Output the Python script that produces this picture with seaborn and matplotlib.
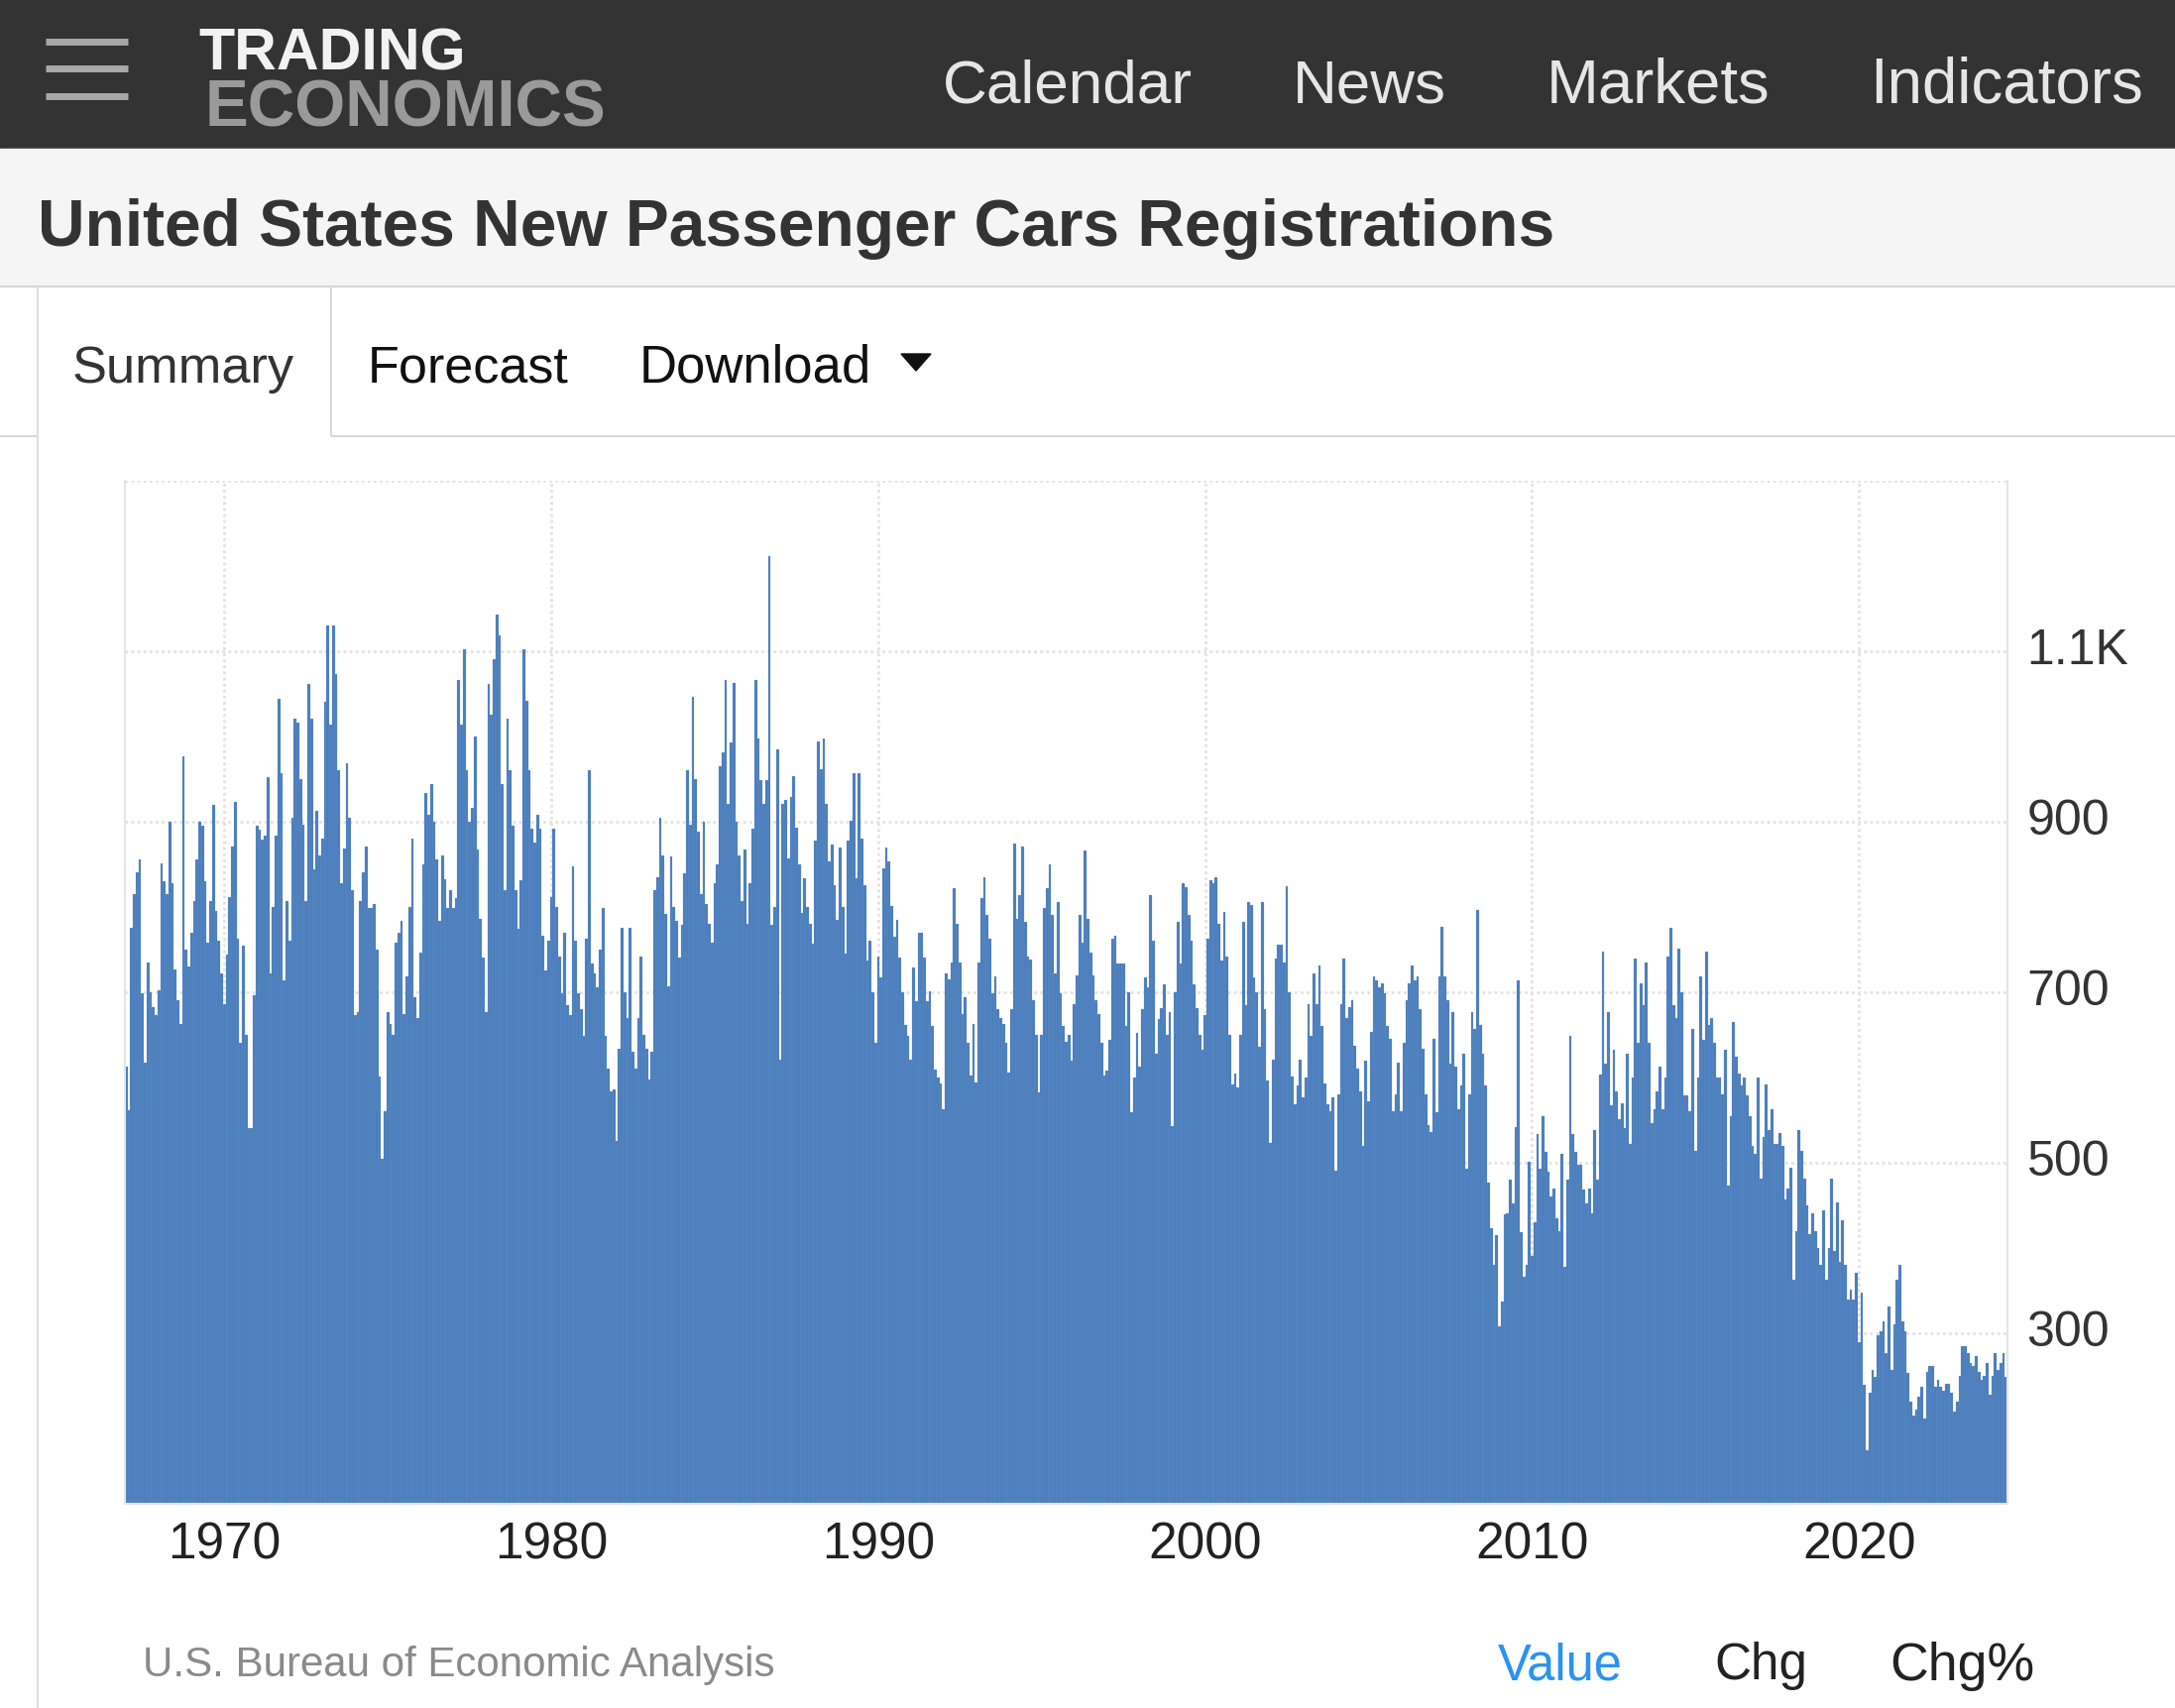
"""US new passenger car registrations, monthly bars in a Trading Economics style page."""

import matplotlib
matplotlib.use("Agg")
import matplotlib.pyplot as plt
import numpy as np
import pandas as pd
import seaborn as sns
from matplotlib.lines import Line2D
from matplotlib.patches import Polygon, Rectangle
from matplotlib.transforms import ScaledTranslation

W, H = 2194, 1724

# monthly values, thousands of units, starting Jan 1967
start_year = 1967
reg_1960s = [
    613, 561, 775, 815, 840, 855, 698, 617, 734, 700, 682, 673,
    702, 851, 830, 815, 900, 827, 726, 690, 662, 976, 750, 730,
    770, 807, 855, 900, 895, 830, 758, 807, 919, 795, 760, 722,
]
reg_1970s = [
    686, 744, 811, 870, 923, 763, 641, 754, 650, 541, 541, 696,
    895, 890, 879, 883, 952, 722, 800, 883, 1044, 956, 714, 807,
    760, 904, 1021, 1016, 950, 896, 807, 1061, 1021, 844, 912, 860,
    880, 1040, 1130, 1013, 1130, 1073, 960, 827, 868, 968, 904, 820,
    673, 677, 807, 840, 871, 799, 799, 803, 750, 601, 504, 560,
    677, 662, 650, 758, 770, 783, 674, 718, 800, 880, 694, 670,
    746, 850, 933, 908, 944, 900, 855, 783, 860, 832, 799, 820,
    799, 810, 1066, 1013, 1102, 960, 900, 916, 1000, 867, 786, 740,
    677, 1061, 1025, 1090, 1142, 1118, 944, 819, 1021, 960, 895, 820,
    774, 831, 1102, 1041, 960, 892, 875, 908, 892, 766, 725, 760,
]
reg_1980s = [
    811, 892, 800, 742, 698, 770, 685, 673, 847, 760, 698, 680,
    649, 762, 960, 733, 722, 706, 750, 799, 649, 610, 584, 586,
    525, 634, 775, 700, 670, 775, 630, 610, 670, 742, 650, 634,
    597, 630, 819, 835, 904, 860, 791, 707, 859, 800, 783, 740,
    779, 839, 960, 896, 1046, 950, 888, 815, 900, 803, 780, 758,
    827, 850, 965, 981, 1066, 920, 993, 1062, 900, 860, 807, 867,
    780, 827, 892, 1066, 997, 948, 920, 948, 1211, 779, 800, 984,
    621, 921, 925, 857, 929, 953, 893, 850, 793, 833, 800, 780,
    757, 877, 994, 961, 997, 920, 853, 873, 825, 785, 869, 800,
    745, 877, 901, 957, 833, 957, 880, 825, 737, 760, 700, 641,
]
reg_1990s = [
    741, 717, 845, 869, 853, 801, 765, 785, 740, 700, 661, 649,
    621, 729, 689, 769, 769, 740, 689, 701, 660, 609, 600, 593,
    562, 722, 715, 734, 822, 780, 734, 674, 694, 640, 602, 662,
    594, 734, 810, 834, 790, 762, 698, 718, 680, 670, 662, 640,
    606, 680, 874, 786, 814, 870, 782, 742, 738, 690, 650, 582,
    650, 798, 822, 850, 790, 722, 806, 698, 660, 642, 650, 620,
    686, 720, 790, 758, 866, 786, 746, 720, 690, 674, 640, 602,
    608, 644, 762, 766, 733, 733, 733, 660, 700, 559, 600, 652,
    612, 680, 717, 705, 814, 760, 628, 668, 681, 709, 650, 676,
    543, 700, 782, 733, 827, 823, 790, 760, 709, 681, 650, 632,
]
reg_2000s = [
    673, 762, 831, 827, 835, 780, 737, 794, 742, 650, 592, 604,
    588, 650, 782, 685, 806, 802, 717, 700, 636, 806, 680, 596,
    523, 621, 739, 755, 755, 734, 824, 700, 601, 568, 590, 621,
    576, 600, 686, 649, 722, 686, 731, 660, 593, 568, 560, 576,
    491, 580, 686, 739, 669, 682, 690, 637, 610, 584, 520, 620,
    572, 653, 718, 714, 706, 710, 698, 660, 645, 560, 580, 617,
    560, 640, 690, 710, 731, 714, 718, 680, 633, 580, 544, 536,
    645, 559, 718, 776, 718, 690, 616, 677, 612, 562, 590, 628,
    493, 580, 677, 657, 796, 661, 628, 590, 477, 423, 380, 415,
    308, 337, 439, 440, 480, 452, 542, 714, 419, 366, 380, 501,
]
reg_2010s = [
    390, 430, 534, 493, 554, 513, 489, 460, 470, 435, 420, 510,
    378, 480, 649, 534, 513, 497, 497, 468, 452, 470, 440, 538,
    480, 603, 747, 616, 677, 567, 632, 583, 551, 570, 540, 628,
    522, 600, 739, 640, 710, 685, 734, 640, 546, 563, 583, 612,
    563, 600, 742, 775, 685, 669, 751, 700, 579, 579, 560, 657,
    514, 600, 718, 644, 747, 661, 669, 640, 600, 600, 580, 632,
    473, 554, 665, 624, 604, 591, 600, 579, 554, 520, 510, 600,
    481, 530, 592, 538, 563, 522, 522, 535, 520, 457, 470, 494,
    363, 420, 538, 514, 481, 450, 416, 441, 420, 400, 380, 444,
    363, 400, 481, 396, 453, 384, 432, 380, 339, 351, 340, 371,
]
reg_2020s = [
    290, 347, 240, 163, 230, 257, 249, 298, 302, 314, 277, 331,
    257, 310, 363, 380, 314, 302, 253, 220, 204, 210, 225, 237,
    200, 255, 261, 261, 237, 245, 237, 233, 241, 241, 230, 208,
    220, 250, 285, 285, 277, 265, 261, 273, 255, 245, 250, 265,
    228, 250, 277, 257, 265, 277, 249,
]

decade_ticks = [1970, 1980, 1990, 2000, 2010, 2020]
y_ticks = [300, 500, 700, 900, 1100]
y_tick_labels = ["300", "500", "700", "900", "1.1K"]
grid_levels = [300, 500, 700, 900, 1100, 1300]

page_title = "United States New Passenger Cars Registrations"
menu_items = ["Calendar", "News", "Markets", "Indicators"]
tab_items = ["Summary", "Forecast", "Download"]
footer_items = ["Value", "Chg", "Chg%"]
source_text = "U.S. Bureau of Economic Analysis"

BAR = "#4b7ebc"
GRID = "#e2e2e2"
FONT = ["Liberation Sans", "DejaVu Sans"]


def fy(y):
    return 1 - y / H


def put_text(fig, x, y, s, width, color, weight="normal"):
    """Left-aligned text whose cap centre sits at pixel y and ink spans width px."""
    t = fig.text(x / W, fy(y), s, fontsize=40, color=color, fontweight=weight,
                 ha="left", va="baseline", family=FONT)
    r = fig.canvas.get_renderer()
    size = 40 * width / t.get_window_extent(r).width
    t.set_fontsize(size)
    t.set_y(fy(y + 0.497 * size))
    return t


def hline(fig, x0, x1, y, color, lw):
    fig.add_artist(Line2D([x0 / W, x1 / W], [fy(y), fy(y)], color=color,
                          lw=lw, transform=fig.transFigure, solid_capstyle="butt"))


def vline(fig, x, y0, y1, color, lw):
    fig.add_artist(Line2D([x / W, x / W], [fy(y0), fy(y1)], color=color,
                          lw=lw, transform=fig.transFigure, solid_capstyle="butt"))


def main():
    sns.set_theme(style="white")
    plt.rcParams["font.family"] = FONT

    values = reg_1960s + reg_1970s + reg_1980s + reg_1990s + reg_2000s + reg_2010s + reg_2020s
    df = pd.DataFrame({"value": values})
    df["pos"] = start_year + np.arange(len(df)) / 12.0

    fig = plt.figure(figsize=(W / 100, H / 100), dpi=100)
    fig.patch.set_facecolor("white")

    # page chrome
    fig.add_artist(Rectangle((0, fy(151)), 1, 151 / H, transform=fig.transFigure,
                             color="#333333", zorder=0))
    fig.add_artist(Rectangle((0, fy(290)), 1, (290 - 151) / H, transform=fig.transFigure,
                             color="#f5f5f5", zorder=0))
    hline(fig, 0, W, 290, "#d8d8d8", 1.5)
    hline(fig, 0, 38, 441, "#d8d8d8", 1.5)
    hline(fig, 334, W, 441, "#d8d8d8", 1.5)
    vline(fig, 38, 290, H, "#dedede", 1.5)
    vline(fig, 334, 290, 441, "#d8d8d8", 1.5)

    for yy in (43, 70, 98):
        hline(fig, 46, 129, yy, "#a8a8a8", 5)
    put_text(fig, 200, 49, "TRADING", 269, "#f2f2f2", weight="bold")
    put_text(fig, 207, 104, "ECONOMICS", 404, "#9a9a9a", weight="bold")

    for label, x, w in zip(menu_items, [951, 1304, 1560, 1886], [252, 155, 225, 276]):
        put_text(fig, x, 81, label, w, "#e6e6e6")

    put_text(fig, 38, 224, page_title, 1528, "#333333", weight="bold")

    for label, x, w, c in zip(tab_items, [73, 371, 645], [224, 203, 234],
                              ["#333333", "#111111", "#111111"]):
        put_text(fig, x, 367, label, w, c)
    fig.add_artist(Polygon([[909 / W, fy(358)], [939 / W, fy(358)], [924 / W, fy(375)]],
                           closed=True, transform=fig.transFigure, color="#111111"))

    put_text(fig, 144, 1676, source_text, 637, "#8a8a8a")
    for label, x, w, c in zip(footer_items, [1511, 1729, 1906], [126, 94, 146],
                              ["#2a93f0", "#222222", "#222222"]):
        put_text(fig, x, 1676, label, w, c)

    # chart
    ax = fig.add_axes([126 / W, fy(1518), (2025 - 126) / W, (1518 - 485.5) / H])
    ax.set_facecolor("white")
    for lvl in grid_levels:
        ax.axhline(lvl, color=GRID, lw=2, ls=(0, (1, 1.2)), zorder=0)
    for yr in decade_ticks:
        ax.axvline(yr, color=GRID, lw=2, ls=(0, (1, 1.2)), zorder=0)

    sns.barplot(data=df, x="pos", y="value", native_scale=True, width=1.0,
                color=BAR, saturation=1, errorbar=None, ax=ax,
                edgecolor="#789dd0", linewidth=0.15, zorder=2)

    ax.set_xlim(start_year - 1 / 24, df["pos"].iloc[-1] + 1 / 24)
    ax.set_ylim(100, 1300)
    ax.set_xlabel("")
    ax.set_ylabel("")

    ax.yaxis.tick_right()
    ax.set_yticks(y_ticks, y_tick_labels)
    ax.set_xticks(decade_ticks, [str(y) for y in decade_ticks])
    ax.tick_params(axis="y", length=0, pad=14, labelsize=36, labelcolor="#333333")
    ax.tick_params(axis="x", length=0, pad=12, labelsize=37, labelcolor="#222222")
    for lab in ax.get_yticklabels():
        lab.set_transform(lab.get_transform() + ScaledTranslation(0, 0.06, fig.dpi_scale_trans))

    ax.spines["top"].set_visible(False)
    for side in ("left", "bottom", "right"):
        ax.spines[side].set_color("#e4e4e4")
        ax.spines[side].set_linewidth(1.5)

    fig.savefig("out.png", dpi=100, facecolor="white")
    plt.close(fig)


if __name__ == "__main__":
    main()
